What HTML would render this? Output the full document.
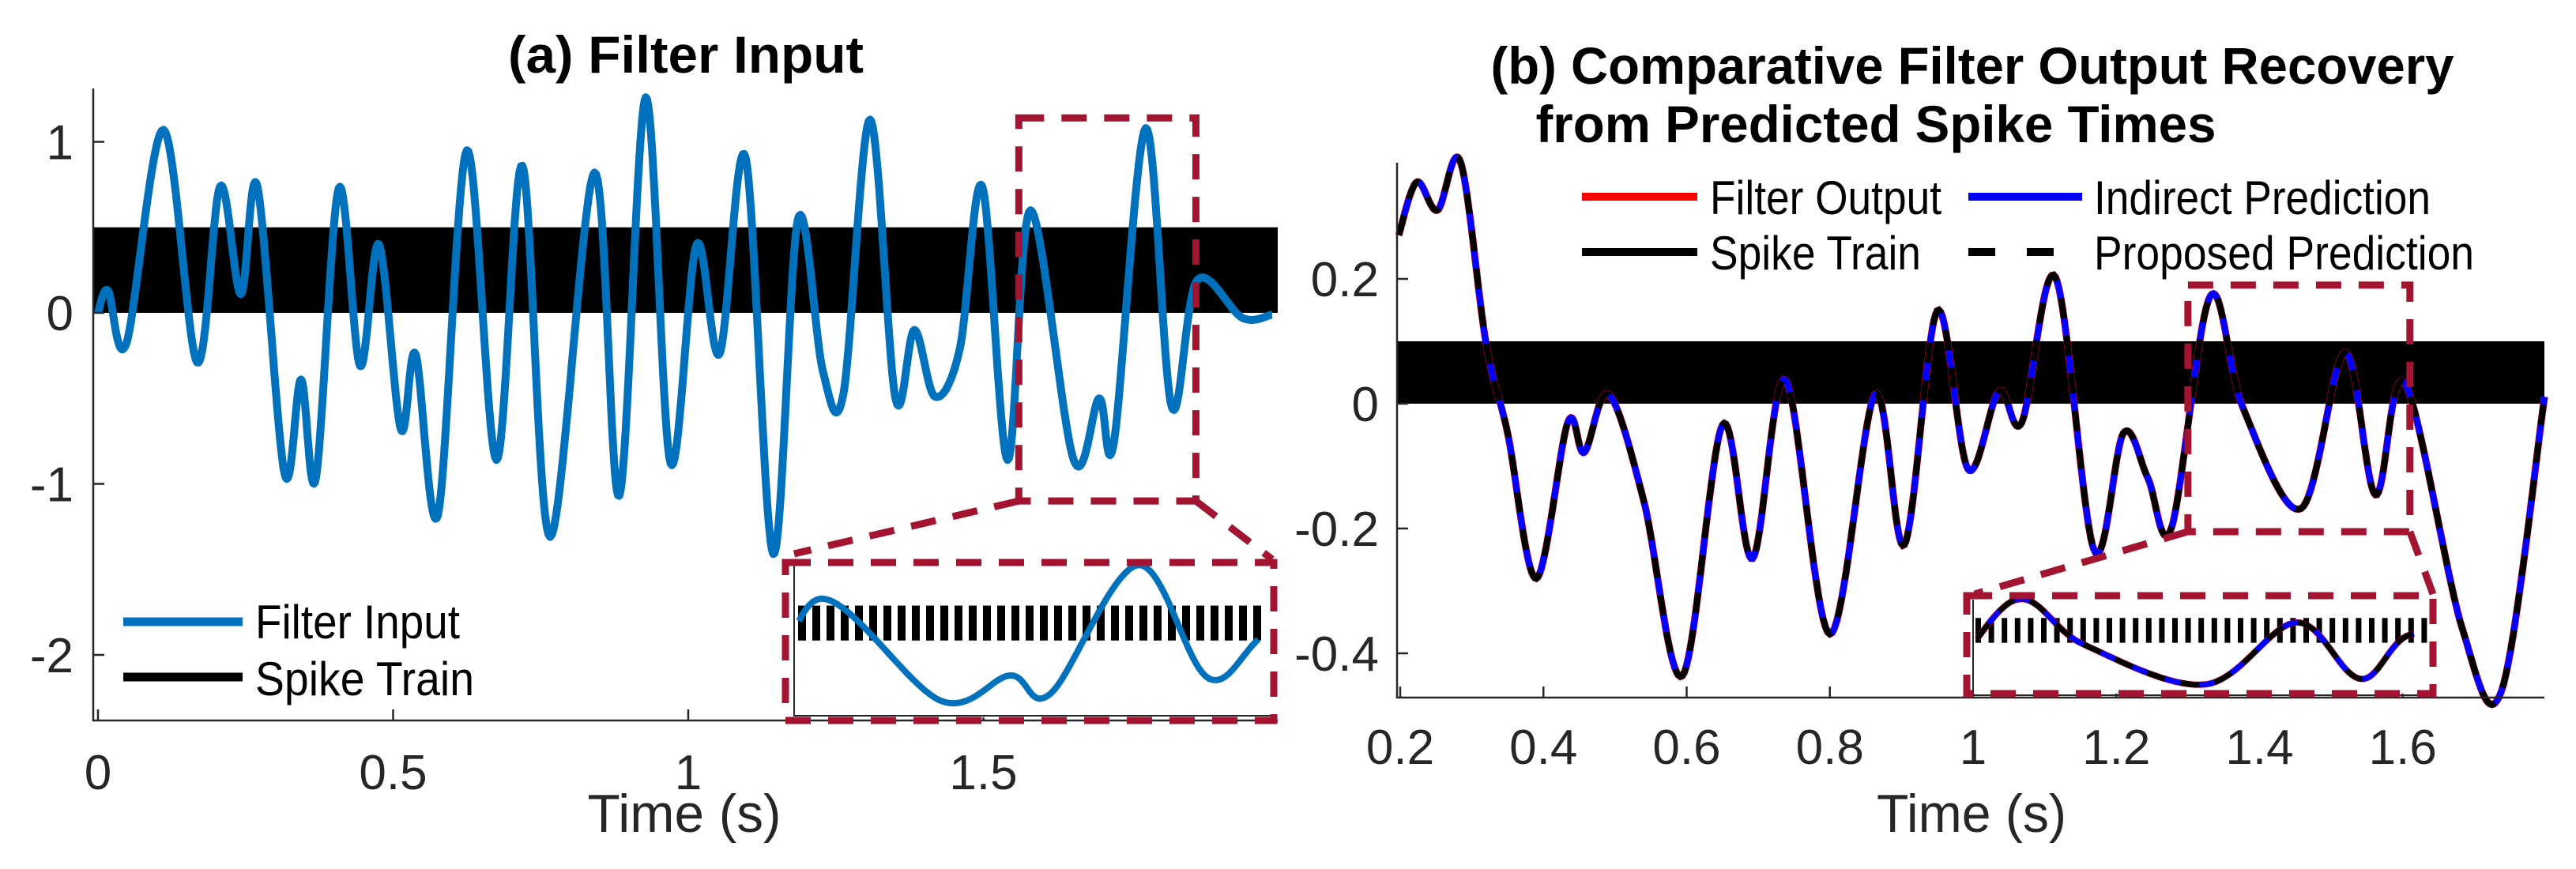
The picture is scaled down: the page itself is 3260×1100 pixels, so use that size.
<!DOCTYPE html>
<html><head><meta charset="utf-8"><style>
html,body{margin:0;padding:0;background:#fff;}
svg{display:block;font-family:"Liberation Sans",sans-serif;}
</style></head><body>
<svg id="fig" width="3260" height="1100" viewBox="0 0 3260 1100" xmlns="http://www.w3.org/2000/svg">
<rect width="3260" height="1100" fill="#fff"/>
<g id="pa"></g>
<g id="pb"></g>
</svg>
<script>
// ---------- Panel (a) data ----------
const aTimes = [0,0.017,0.048,0.111,0.168,0.207,0.242,0.270,0.316,0.344,0.369,0.408,0.444,0.476,0.513,0.538,0.576,0.625,0.675,0.719,0.766,0.841,0.883,0.928,0.970,1.014,1.053,1.097,1.144,1.186,1.228,1.263,1.308,1.351,1.383,1.418,1.460,1.498,1.541,1.580,1.653,1.696,1.721,1.775,1.819,1.862,1.939,1.989];
const aValues = [0,0.13,-0.18,1.07,-0.29,0.74,0.11,0.74,-0.94,-0.39,-0.97,0.73,-0.31,0.40,-0.68,-0.24,-1.18,0.95,-0.86,0.86,-1.31,0.82,-1.07,1.26,-0.88,0.40,-0.24,0.91,-1.41,0.55,-0.34,-0.47,1.13,-0.50,-0.10,-0.49,-0.21,0.74,-0.86,0.60,-0.86,-0.50,-0.76,1.08,-0.55,0.19,-0.03,-0.01];
const aXTicks = [0,0.5,1,1.5];
const aXTickLabels = ["0","0.5","1","1.5"];
const aYTicks = [1,0,-1,-2];
const aYTickLabels = ["1","0","-1","-2"];
const aSpikeBand = [0,0.5];
const aZoomT = [1.56,1.86];
const aZoomV = [-1.10,1.14];

// ---------- Panel (b) data ----------
const bTimes = [0.198,0.223,0.252,0.284,0.320,0.350,0.390,0.434,0.457,0.491,0.540,0.594,0.650,0.692,0.738,0.800,0.863,0.904,0.950,0.993,1.036,1.068,1.115,1.169,1.210,1.244,1.277,1.331,1.377,1.458,1.519,1.562,1.603,1.683,1.738,1.798];
const bFilterOutput = [0.27,0.355,0.31,0.388,0.096,-0.047,-0.28,-0.03,-0.078,0.015,-0.155,-0.436,-0.034,-0.248,0.038,-0.369,0.015,-0.226,0.149,-0.105,0.020,-0.030,0.203,-0.235,-0.047,-0.119,-0.199,0.172,-0.007,-0.168,0.082,-0.146,0.033,-0.360,-0.460,0.011];
const bIndirect = [0.27,0.355,0.31,0.388,0.096,-0.047,-0.28,-0.03,-0.078,0.015,-0.155,-0.436,-0.034,-0.248,0.038,-0.369,0.015,-0.226,0.149,-0.105,0.020,-0.030,0.203,-0.235,-0.047,-0.119,-0.199,0.172,-0.007,-0.168,0.082,-0.146,0.033,-0.360,-0.460,0.011];
const bProposed = [0.27,0.355,0.31,0.388,0.096,-0.047,-0.28,-0.03,-0.078,0.015,-0.155,-0.436,-0.034,-0.248,0.038,-0.369,0.015,-0.226,0.149,-0.105,0.020,-0.030,0.203,-0.235,-0.047,-0.119,-0.199,0.172,-0.007,-0.168,0.082,-0.146,0.033,-0.360,-0.460,0.011];
const bXTicks = [0.2,0.4,0.6,0.8,1.0,1.2,1.4,1.6];
const bXTickLabels = ["0.2","0.4","0.6","0.8","1","1.2","1.4","1.6"];
const bYTicks = [0.2,0,-0.2,-0.4];
const bYTickLabels = ["0.2","0","-0.2","-0.4"];
const bSpikeBand = [0,0.1];
const bZoomT = [1.30,1.61];
const bZoomV = [-0.205,0.19];

const NS = "http://www.w3.org/2000/svg";
function mk(parent, tag, attrs, text){
  const e = document.createElementNS(NS, tag);
  for (const k in attrs) e.setAttribute(k, attrs[k]);
  if (text !== undefined) e.textContent = text;
  parent.appendChild(e);
  return e;
}
function splinePath(ts, vs, sx, sy, t0, t1){
  let d = "";
  const n = ts.length;
  let started = false;
  for (let i = 0; i < n - 1; i++){
    const p0 = i>0?i-1:i, p3 = i+2<n?i+2:i+1;
    for (let k = 0; k <= 20; k++){
      const u = k/20;
      const cr = (a,b,c,dd)=>0.5*((2*b)+(-a+c)*u+(2*a-5*b+4*c-dd)*u*u+(-a+3*b-3*c+dd)*u*u*u);
      const t = cr(ts[p0],ts[i],ts[i+1],ts[p3]);
      const v = cr(vs[p0],vs[i],vs[i+1],vs[p3]);
      if (t0!==undefined && (t<t0||t>t1)) continue;
      d += (started?"L":"M") + sx(t).toFixed(1) + "," + sy(v).toFixed(1);
      started = true;
    }
  }
  return d;
}
const RED = "#A2142F", TXT = "#262626";
const LA = "spacingAndGlyphs";

// ================= Panel A =================
(function(){
  const g = document.getElementById("pa");
  const X0 = 118, X1 = 1617, Y0 = 112, Y1 = 912;
  const sx = t => 124 + t*747;
  const sy = v => 396 - v*216.5;
  mk(g,"text",{x:868,y:92,"text-anchor":"middle","font-size":66,"font-weight":"bold",fill:"#000",textLength:450,lengthAdjust:LA,},"(a) Filter Input");
  mk(g,"rect",{x:X0,y:sy(aSpikeBand[1]),width:X1-X0,height:sy(aSpikeBand[0])-sy(aSpikeBand[1]),fill:"#000",});
  mk(g,"path",{d:splinePath(aTimes,aValues,sx,sy),fill:"none",stroke:"#0072BD","stroke-width":10,"stroke-linejoin":"round",});
  mk(g,"path",{d:`M${X0},${Y0}V${Y1}H${X1}`,fill:"none",stroke:TXT,"stroke-width":2.5,});
  aXTicks.forEach((t,i)=>{
    mk(g,"line",{x1:sx(t),x2:sx(t),y1:Y1,y2:Y1-14,stroke:TXT,"stroke-width":2.5,});
    mk(g,"text",{x:sx(t),y:999,"text-anchor":"middle","font-size":62,fill:TXT,},aXTickLabels[i]);
  });
  aYTicks.forEach((v,i)=>{
    mk(g,"line",{x1:X0,x2:X0+14,y1:sy(v),y2:sy(v),stroke:TXT,"stroke-width":2.5,});
    mk(g,"text",{x:93,y:sy(v)+22,"text-anchor":"end","font-size":62,fill:TXT,},aYTickLabels[i]);
  });
  mk(g,"text",{x:866,y:1053,"text-anchor":"middle","font-size":68,fill:TXT,textLength:245,lengthAdjust:LA,},"Time (s)");
  mk(g,"line",{x1:156,x2:307,y1:787,y2:787,stroke:"#0072BD","stroke-width":11,});
  mk(g,"text",{x:323,y:808,"font-size":60,fill:"#000",textLength:259,lengthAdjust:LA,},"Filter Input");
  mk(g,"line",{x1:156,x2:307,y1:857,y2:857,stroke:"#000","stroke-width":11,});
  mk(g,"text",{x:323,y:880,"font-size":60,fill:"#000",textLength:277,lengthAdjust:LA,},"Spike Train");
  const zx0=sx(aZoomT[0]), zx1=sx(aZoomT[1]), zy0=sy(aZoomV[1]), zy1=sy(aZoomV[0]);
  const dash = {fill:"none",stroke:RED,"stroke-width":9,"stroke-dasharray":"32,22"};
  mk(g,"rect",Object.assign({x:zx0,y:zy0,width:zx1-zx0,height:zy1-zy0,},dash));
  const IX0=999, IX1=1615, IY0=710, IY1=908;
  mk(g,"rect",{x:IX0,y:IY0,width:IX1-IX0,height:IY1-IY0,fill:"#fff",});
  const isx = t => IX0 + (t-aZoomT[0])/(aZoomT[1]-aZoomT[0])*(IX1-IX0);
  const isy = v => IY1 - (v-aZoomV[0])/(aZoomV[1]-aZoomV[0])*(IY1-IY0);
  for (let k=0;k<33;k++){
    const x = 1010 + k*18;
    const r = mk(g,"rect",{x:x,y:isy(aSpikeBand[1]),width:10,height:isy(aSpikeBand[0])-isy(aSpikeBand[1]),fill:"#000"});
    
    
  }
  mk(g,"path",{d:splinePath(aTimes,aValues,isx,isy,aZoomT[0]+0.005,aZoomT[1]-0.01),fill:"none",stroke:"#0072BD","stroke-width":8,});
  mk(g,"path",{d:`M${IX0+6},${IY0+5}V${IY1-2}H${IX1}`,fill:"none",stroke:TXT,"stroke-width":2,});
  mk(g,"rect",Object.assign({x:IX0-5,y:IY0+2,width:IX1-IX0+2,height:IY1-IY0+2,},dash));
  mk(g,"line",Object.assign({x1:zx0,y1:zy1,x2:1005,y2:701,},dash));
  mk(g,"line",Object.assign({x1:zx1,y1:zy1,x2:1610,y2:708,},dash));
})();

// ================= Panel B =================
(function(){
  const g = document.getElementById("pb");
  const X0 = 1768, X1 = 3220, Y0 = 206, Y1 = 883;
  const sx = t => 1772 + (t-0.2)*906.25;
  const sy = v => 511 - v*790;
  mk(g,"text",{x:2496,y:106,"text-anchor":"middle","font-size":66,"font-weight":"bold",fill:"#000",textLength:1219,lengthAdjust:LA,},"(b) Comparative Filter Output Recovery");
  mk(g,"text",{x:2374,y:180,"text-anchor":"middle","font-size":66,"font-weight":"bold",fill:"#000",textLength:861,lengthAdjust:LA,},"from Predicted Spike Times");
  mk(g,"rect",{x:X0,y:sy(bSpikeBand[1]),width:X1-X0,height:sy(bSpikeBand[0])-sy(bSpikeBand[1]),fill:"#000",});
  mk(g,"path",{d:splinePath(bTimes,bFilterOutput,sx,sy),fill:"none",stroke:"#f00","stroke-width":9,});
  mk(g,"path",{d:splinePath(bTimes,bIndirect,sx,sy),fill:"none",stroke:"#00f","stroke-width":8,});
  mk(g,"path",{d:splinePath(bTimes,bProposed,sx,sy),fill:"none",stroke:"#000","stroke-width":8,"stroke-dasharray":"26,22",});
  mk(g,"path",{d:`M${X0},${Y0}V${Y1}H${X1}`,fill:"none",stroke:TXT,"stroke-width":2.5,});
  bXTicks.forEach((t,i)=>{
    mk(g,"line",{x1:sx(t),x2:sx(t),y1:Y1,y2:Y1-14,stroke:TXT,"stroke-width":2.5,});
    mk(g,"text",{x:sx(t),y:967,"text-anchor":"middle","font-size":62,fill:TXT,},bXTickLabels[i]);
  });
  bYTicks.forEach((v,i)=>{
    mk(g,"line",{x1:X0,x2:X0+14,y1:sy(v),y2:sy(v),stroke:TXT,"stroke-width":2.5,});
    mk(g,"text",{x:1745,y:sy(v)+22,"text-anchor":"end","font-size":62,fill:TXT,},bYTickLabels[i]);
  });
  mk(g,"text",{x:2495,y:1053,"text-anchor":"middle","font-size":68,fill:TXT,textLength:240,lengthAdjust:LA,},"Time (s)");
  mk(g,"line",{x1:2002,x2:2148,y1:249,y2:249,stroke:"#f00","stroke-width":10,});
  mk(g,"text",{x:2164,y:271,"font-size":60,fill:"#000",textLength:293,lengthAdjust:LA,},"Filter Output");
  mk(g,"line",{x1:2002,x2:2148,y1:319,y2:319,stroke:"#000","stroke-width":10,});
  mk(g,"text",{x:2164,y:341,"font-size":60,fill:"#000",textLength:267,lengthAdjust:LA,},"Spike Train");
  mk(g,"line",{x1:2491,x2:2635,y1:249,y2:249,stroke:"#00f","stroke-width":10,});
  mk(g,"text",{x:2650,y:271,"font-size":60,fill:"#000",textLength:426,lengthAdjust:LA,},"Indirect Prediction");
  mk(g,"line",{x1:2491,x2:2635,y1:319,y2:319,stroke:"#000","stroke-width":10,"stroke-dasharray":"34,40",});
  mk(g,"text",{x:2650,y:341,"font-size":60,fill:"#000",textLength:481,lengthAdjust:LA,},"Proposed Prediction");
  const zx0=sx(bZoomT[0]), zx1=sx(bZoomT[1]), zy0=sy(bZoomV[1]), zy1=sy(bZoomV[0]);
  const dash = {fill:"none",stroke:RED,"stroke-width":9,"stroke-dasharray":"32,22"};
  mk(g,"rect",Object.assign({x:zx0,y:zy0,width:zx1-zx0,height:zy1-zy0,},dash));
  const IX0=2491, IX1=3079, IY0=754, IY1=878;
  mk(g,"rect",{x:IX0,y:IY0,width:IX1-IX0,height:IY1-IY0,fill:"#fff",});
  const isx = t => IX0 + (t-bZoomT[0])/(bZoomT[1]-bZoomT[0])*(IX1-IX0);
  const isy = v => IY0 + (bZoomV[1]-v)/(bZoomV[1]-bZoomV[0])*(IY1-IY0);
  for (let k=0;k<35;k++){
    const x = 2500 + k*16.6;
    const r = mk(g,"rect",{x:x,y:isy(bSpikeBand[1]),width:7,height:isy(bSpikeBand[0])-isy(bSpikeBand[1]),fill:"#000"});
    
    
  }
  mk(g,"path",{d:splinePath(bTimes,bFilterOutput,isx,isy,bZoomT[0]+0.005,bZoomT[1]-0.01),fill:"none",stroke:"#f00","stroke-width":8,});
  mk(g,"path",{d:splinePath(bTimes,bIndirect,isx,isy,bZoomT[0]+0.005,bZoomT[1]-0.01),fill:"none",stroke:"#00f","stroke-width":7,});
  mk(g,"path",{d:splinePath(bTimes,bProposed,isx,isy,bZoomT[0]+0.005,bZoomT[1]-0.01),fill:"none",stroke:"#000","stroke-width":7,"stroke-dasharray":"24,20",});
  mk(g,"path",{d:`M${IX0+6},${IY0+5}V${IY1+2}H${IX1}`,fill:"none",stroke:TXT,"stroke-width":2,});
  mk(g,"rect",Object.assign({x:IX0-2,y:IY0,width:IX1-IX0+2,height:IY1-IY0,},dash));
  mk(g,"line",Object.assign({x1:zx0,y1:zy1,x2:2499,y2:752,},dash));
  mk(g,"line",Object.assign({x1:zx1,y1:zy1,x2:3079,y2:752,},dash));
})();
</script>
</body></html>
